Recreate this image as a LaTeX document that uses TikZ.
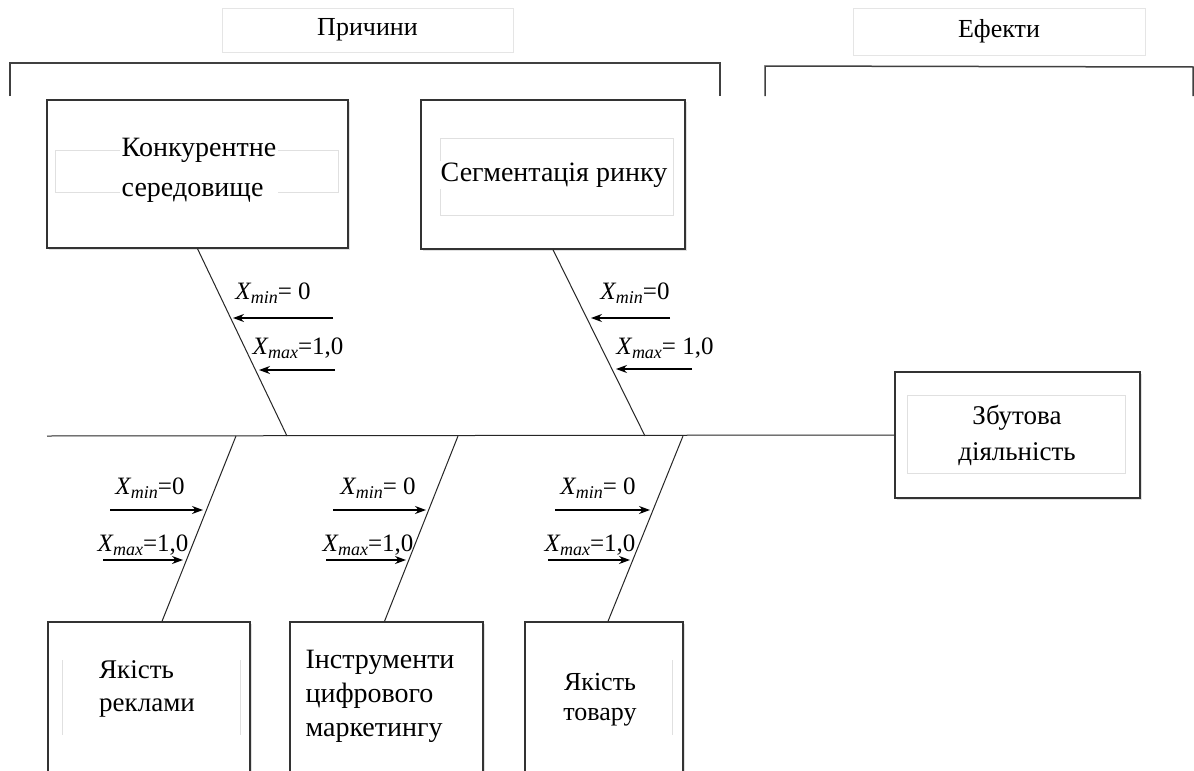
\documentclass[tikz,border=0pt]{standalone}
\usepackage{fontspec}
\setmainfont{Liberation Serif}
\usetikzlibrary{positioning, arrows.meta, shadows}

% змінна з індексом
\newcommand{\xsub}[1]{\textit{X}\kern-0.5pt\raisebox{-0.35ex}{\fontsize{18}{18}\selectfont\textit{#1}}}

\begin{document}
\begin{tikzpicture}[
        x=1pt, y=-1pt,
        every node/.style={
            align=center,
            font=\fontsize{28}{40}\selectfont
        },
        cause/.style={
            rectangle,
            draw=black!80,
            fill=white,
            line width=1.4pt,
            inner sep=0pt,
            general shadow={fill=black!12, shadow xshift=2pt, shadow yshift=-2pt}
        },
        frame/.style={
            draw=black!12,
            line width=0.8pt
        },
        caption/.style={
            fill=white,
            inner sep=2pt
        },
        header/.style={
            draw=black!10,
            line width=0.8pt,
            font=\fontsize{26}{30}\selectfont
        },
        bone/.style={
            line width=1pt,
            black!85
        },
        bracket/.style={
            line width=1.5pt,
            black!75
        },
        inarrow/.style={
            -{Stealth[length=11pt,width=8pt]},
            line width=1.1pt
        },
        level/.style={
            font=\fontsize{25}{28}\selectfont,
            inner sep=0pt
        }
    ]

    \clip (0,0) rectangle (1194,771);
    \fill[white] (0,0) rectangle (1194,771);

    % заголовки груп
    \node[header, minimum width=291, minimum height=44] (causes) at (367.5,30) {Причини};
    \node[header, minimum width=292, minimum height=47] (effects) at (999,31.5) {Ефекти};

    \draw[bracket] (10,96) -- (10,63) -- (720,63) -- (720,96);
    \draw[bracket] (765,96) -- (765,66) -- (1193,67) -- (1193,96);

    % хребет діаграми
    \node[cause, minimum width=245, minimum height=126] (effect) at (1017.5,435) {};
    \draw[frame] (907,395) rectangle (1125,473);
    \node[caption, font=\fontsize{27}{36}\selectfont] (effecttext) at (1017,435) {Збутова\\діяльність};
    \coordinate (tail) at (47,436);
    \draw[bone] (tail) -- (effect.west);

    % верхні причини
    \node[cause, minimum width=301, minimum height=148] (konk) at (197.5,174) {};
    \draw[frame] (55,150) rectangle (338,192);
    \node[caption, align=left] (konktext) at (199,170) {Конкурентне\\середовище};

    \node[cause, minimum width=264, minimum height=149] (segm) at (553,174.5) {};
    \draw[frame] (440,138) rectangle (673,215);
    \node[caption] (segmtext) at (554,175) {Сегментація ринку};

    \coordinate (j1) at (287,436);
    \coordinate (j2) at (645,436);
    \draw[bone] (konk.south) -- (j1);
    \draw[bone] (segm.south) -- (j2);

    % нижні причини
    \node[cause, minimum width=202, minimum height=190] (rekl) at (149,717) {};
    \draw[frame] (62,660) -- (62,735);
    \draw[frame] (240,660) -- (240,735);
    \node[align=left, font=\fontsize{27}{33}\selectfont] (rekltext) at (147,689) {Якість\\реклами};

    \node[cause, minimum width=193, minimum height=190] (tsyfr) at (386.5,717) {};
    \node[align=left, font=\fontsize{28}{34}\selectfont] (tsyfrtext) at (380,696) {Інструменти\\цифрового\\маркетингу};

    \node[cause, minimum width=158, minimum height=190] (tovar) at (604,717) {};
    \draw[frame] (672,660) -- (672,735);
    \node[font=\fontsize{26}{30}\selectfont] (tovartext) at (600,700) {Якість\\товару};

    \coordinate (j3) at (236,436);
    \coordinate (j4) at (458,436);
    \coordinate (j5) at (683,436);
    \draw[bone] (j3) -- ([xshift=13pt]rekl.north);
    \draw[bone] (j4) -- ([xshift=-2pt]tsyfr.north);
    \draw[bone] (j5) -- ([xshift=4pt]tovar.north);

    % межі факторів
    \node[level] (min1) at (273,293) {\xsub{min}= 0};
    \node[level] (max1) at (298,348) {\xsub{max}=1,0};
    \coordinate (a1) at (333,318);  \coordinate (t1) at (233,318);
    \coordinate (a2) at (335,370);  \coordinate (t2) at (259,370);
    \draw[inarrow] (a1) -- (t1);
    \draw[inarrow] (a2) -- (t2);

    \node[level] (min2) at (635,293) {\xsub{min}=0};
    \node[level] (max2) at (665,348) {\xsub{max}= 1,0};
    \coordinate (a3) at (670,318);  \coordinate (t3) at (591,318);
    \coordinate (a4) at (692,369);  \coordinate (t4) at (616,369);
    \draw[inarrow] (a3) -- (t3);
    \draw[inarrow] (a4) -- (t4);

    \node[level] (min3) at (150,488) {\xsub{min}=0};
    \node[level] (max3) at (143,545) {\xsub{max}=1,0};
    \coordinate (a5) at (110,510);  \coordinate (t5) at (203,510);
    \coordinate (a6) at (103,560);  \coordinate (t6) at (183,560);
    \draw[inarrow] (a5) -- (t5);
    \draw[inarrow] (a6) -- (t6);

    \node[level] (min4) at (378,488) {\xsub{min}= 0};
    \node[level] (max4) at (368,545) {\xsub{max}=1,0};
    \coordinate (a7) at (333,510);  \coordinate (t7) at (426,510);
    \coordinate (a8) at (326,560);  \coordinate (t8) at (406,560);
    \draw[inarrow] (a7) -- (t7);
    \draw[inarrow] (a8) -- (t8);

    \node[level] (min5) at (598,488) {\xsub{min}= 0};
    \node[level] (max5) at (590,545) {\xsub{max}=1,0};
    \coordinate (a9) at (555,510);  \coordinate (t9) at (650,510);
    \coordinate (a10) at (548,560); \coordinate (t10) at (630,560);
    \draw[inarrow] (a9) -- (t9);
    \draw[inarrow] (a10) -- (t10);

\end{tikzpicture}
\end{document}
